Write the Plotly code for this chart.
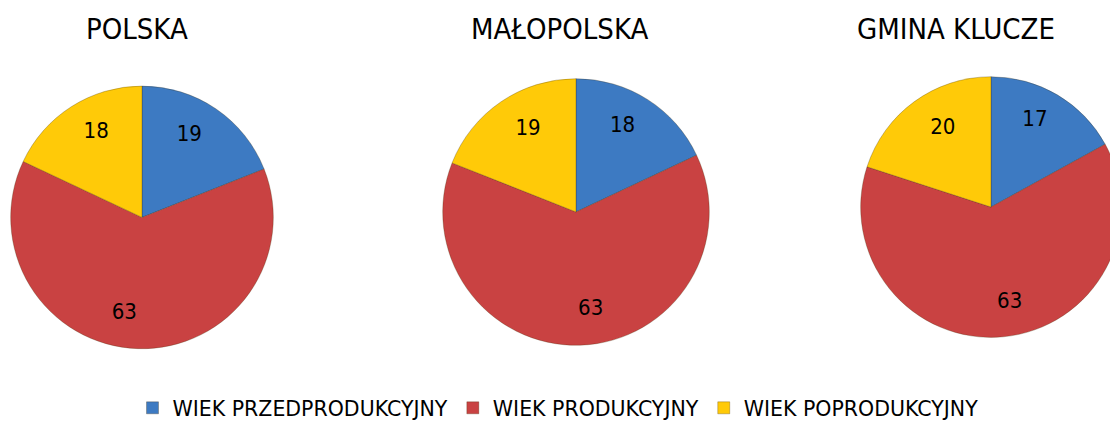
import plotly.graph_objects as go

regions = ["POLSKA", "MAŁOPOLSKA", "GMINA KLUCZE"]
categories = ["WIEK PRZEDPRODUKCYJNY", "WIEK PRODUKCYJNY", "WIEK POPRODUKCYJNY"]
polska = [19, 63, 18]
malopolska = [18, 63, 19]
gmina_klucze = [17, 63, 20]
series = [polska, malopolska, gmina_klucze]

colors = ["#3D7AC2", "#C94242", "#FFCA08"]
W, H = 1125, 428
FONT = "DejaVu Sans Condensed, DejaVu Sans, sans-serif"
LEGFONT = "DejaVu Sans, sans-serif"

# pie centre (px) and radius (px), compensated for plotly's internal padding
geo = [(142, 221, 133.5), (576, 215.5, 135.5), (991, 210.5, 132.5)]
title_x = [137, 560, 956]

NB = "&nbsp;"
SMALL = "%{value}<br>" + NB  # lifts small-slice labels a little
# label templates per pie (spacing only nudges the label placement)
templates = [
    [SMALL, NB + "<br>" + NB + "<br>%{value}" + NB * 5, SMALL],
    [SMALL, NB + "<br>" + NB + "<br>" + NB * 4 + "%{value}", SMALL],
    [SMALL, NB + "<br>" + NB + "<br>" + NB * 4 + "%{value}", SMALL],
]

fig = go.Figure()
for i, (name, vals) in enumerate(zip(regions, series)):
    cx, cy, r = geo[i]
    fig.add_trace(go.Pie(
        labels=categories, values=vals, name=name,
        sort=False, direction="clockwise", rotation=0,
        marker=dict(colors=colors, line=dict(color="rgba(60,40,0,0.35)", width=0.8)),
        texttemplate=templates[i], textposition="inside", insidetextorientation="horizontal",
        textfont=dict(family=FONT, size=22, color="black"),
        hoverinfo="label+value",
        domain=dict(x=[(cx - r) / W, (cx + r) / W], y=[1 - (cy + r) / H, 1 - (cy - r) / H]),
        showlegend=(i == 0),
    ))
    fig.add_annotation(text=name, x=title_x[i] / W, y=1 - 29 / H, xref="paper", yref="paper",
                       showarrow=False, xanchor="center", yanchor="middle",
                       font=dict(family=FONT, size=29, color="black"))

fig.update_layout(
    width=W, height=H,
    margin=dict(l=0, r=0, t=0, b=0),
    paper_bgcolor="white", plot_bgcolor="white",
    legend=dict(orientation="h", x=558 / W, xanchor="center", y=1 - 415 / H, yanchor="middle",
                font=dict(family=LEGFONT, size=20.5, color="black"), itemwidth=30,
                traceorder="normal"),
    uniformtext=dict(minsize=10, mode="show"),
)

fig.write_html("out.html", config={"displayModeBar": False},
               post_script="document.documentElement.style.overflow='hidden';document.body.style.overflow='hidden';document.body.style.margin='0';")
